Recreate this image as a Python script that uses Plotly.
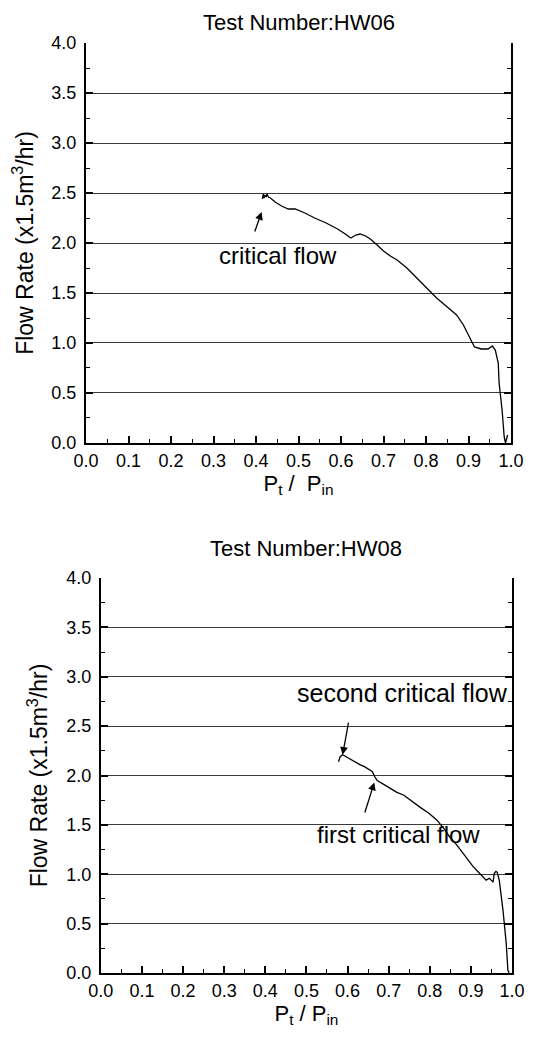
import plotly.graph_objects as go

# ---- data ----
x_hw06 = [0.415, 0.417, 0.419, 0.421, 0.424, 0.426, 0.429, 0.434, 0.445, 0.460, 0.476, 0.492,
          0.515, 0.538, 0.565, 0.592, 0.610, 0.623, 0.635, 0.645, 0.658, 0.669, 0.685, 0.700,
          0.716, 0.732, 0.755, 0.778, 0.800, 0.825, 0.850, 0.872, 0.888, 0.903, 0.914, 0.930,
          0.946, 0.956, 0.963, 0.970, 0.972, 0.979, 0.984, 0.987, 0.992]
y_hw06 = [2.44, 2.49, 2.45, 2.48, 2.46, 2.49, 2.46, 2.45, 2.41, 2.37, 2.34, 2.34,
          2.30, 2.25, 2.20, 2.14, 2.09, 2.05, 2.08, 2.09, 2.07, 2.04, 1.98, 1.92,
          1.87, 1.83, 1.75, 1.65, 1.55, 1.45, 1.36, 1.28, 1.18, 1.05, 0.96, 0.94,
          0.94, 0.97, 0.93, 0.80, 0.60, 0.33, 0.06, 0.00, 0.08]

x_hw08 = [0.578, 0.582, 0.588, 0.600, 0.617, 0.630, 0.641, 0.652, 0.660, 0.666, 0.672, 0.688,
          0.704, 0.720, 0.737, 0.756, 0.776, 0.797, 0.817, 0.833, 0.848, 0.865, 0.882, 0.894,
          0.905, 0.921, 0.933, 0.937, 0.945, 0.954, 0.957, 0.961, 0.964, 0.969, 0.978, 0.986,
          0.990, 0.993]
y_hw08 = [2.14, 2.19, 2.21, 2.18, 2.14, 2.11, 2.09, 2.06, 2.04, 1.99, 1.95, 1.91,
          1.87, 1.83, 1.80, 1.74, 1.68, 1.62, 1.55, 1.47, 1.38, 1.30, 1.21, 1.14,
          1.08, 1.01, 0.96, 0.94, 0.96, 0.92, 1.01, 1.03, 1.02, 0.94, 0.64, 0.30,
          0.03, 0.00]

titles = ["Test Number:HW06", "Test Number:HW08"]
x_titles = ["P<sub>t</sub> /  P<sub>in</sub>", "P<sub>t</sub> / P<sub>in</sub>"]
y_title = "Flow Rate (x1.5m<sup>3</sup>/hr)"
x_ticks = [0.0, 0.1, 0.2, 0.3, 0.4, 0.5, 0.6, 0.7, 0.8, 0.9, 1.0]
y_ticks = [0.0, 0.5, 1.0, 1.5, 2.0, 2.5, 3.0, 3.5, 4.0]
top_ticks_1 = [0.072, 0.214, 0.359, 0.501, 0.643, 0.788, 0.932]
top_ticks_2 = [0.089, 0.183, 0.277, 0.371, 0.465, 0.559, 0.653, 0.747, 0.841, 0.935]

FONT = "Arial, Liberation Sans, sans-serif"

fig = go.Figure()
fig.add_trace(go.Scatter(x=x_hw06, y=y_hw06, mode="lines", xaxis="x", yaxis="y",
                         line=dict(color="black", width=1.3), showlegend=False))
fig.add_trace(go.Scatter(x=x_hw08, y=y_hw08, mode="lines", xaxis="x2", yaxis="y2",
                         line=dict(color="black", width=1.3), showlegend=False))

def xax(domain, anchor, title):
    return dict(domain=domain, anchor=anchor, range=[0, 1], tickvals=x_ticks,
                ticktext=[f"{v:.1f}" for v in x_ticks], ticks="inside", ticklen=7,
                tickwidth=1.5, tickcolor="black", showline=True, linecolor="black",
                linewidth=2, showgrid=False, zeroline=False,
                minor=dict(ticks="inside", dtick=0.05, ticklen=4, tickwidth=1.3, tickcolor="black"),
                tickfont=dict(family=FONT, size=18, color="black"),
                title=dict(text=title, font=dict(family=FONT, size=22, color="black"), standoff=1))

def yax(domain, anchor, title):
    return dict(domain=domain, anchor=anchor, range=[0, 4], tickvals=y_ticks,
                ticktext=[f"{v:.1f}" for v in y_ticks], ticks="inside", ticklen=7,
                tickwidth=1.5, tickcolor="black", showline=True, linecolor="black",
                linewidth=2, mirror="ticks", showgrid=True, gridcolor="#3a3a3a",
                gridwidth=1.4, zeroline=False, ticklabelstandoff=4,
                minor=dict(ticks="inside", dtick=0.25, ticklen=4, tickwidth=1.3, tickcolor="black"),
                tickfont=dict(family=FONT, size=18, color="black"),
                title=dict(text=title, font=dict(family=FONT, size=23, color="black"), standoff=12))

def topax(overlay, anchor, vals, domain):
    return dict(overlaying=overlay, anchor=anchor, side="top", range=[0, 1], tickvals=vals,
                domain=domain, showticklabels=False, ticks="inside", ticklen=7, tickwidth=1.5,
                tickcolor="black", showline=True, linecolor="black", linewidth=2,
                showgrid=False, zeroline=False)

top_dom = [0.5699, 1.0]
bot_dom = [0.0, 0.4247]
xd1 = [0, 429 / 430]
xd2 = [15 / 430, 1.0]

fig.update_layout(
    width=529, height=1022,
    margin=dict(l=78, r=21, t=35, b=57),
    plot_bgcolor="white", paper_bgcolor="white",
    xaxis=xax(xd1, "y", x_titles[0]),
    yaxis=yax(top_dom, "x", y_title),
    xaxis2=xax(xd2, "y2", x_titles[1]),
    yaxis2=yax(bot_dom, "x2", y_title),
    xaxis3=topax("x", "y", top_ticks_1, xd1),
    xaxis4=topax("x2", "y2", top_ticks_2, xd2),
)

ann = []
# subplot titles
ann.append(dict(text=titles[0], xref="x domain", yref="paper", x=0.5, y=top_dom[1], yshift=35,
                yanchor="top", showarrow=False, font=dict(family=FONT, size=22, color="black")))
ann.append(dict(text=titles[1], xref="x2 domain", yref="paper", x=0.5, y=bot_dom[1], yshift=30,
                yanchor="middle", showarrow=False, font=dict(family=FONT, size=22, color="black")))
# arrows
arr = dict(showarrow=True, arrowhead=2, arrowsize=1.2, arrowwidth=1.3, arrowcolor="black", text="")
ann.append(dict(xref="x", yref="y", axref="x", ayref="y", x=0.413, y=2.31, ax=0.396, ay=2.10, **arr))
ann.append(dict(xref="x2", yref="y2", axref="x2", ayref="y2", x=0.588, y=2.21, ax=0.603, ay=2.55, **arr))
ann.append(dict(xref="x2", yref="y2", axref="x2", ayref="y2", x=0.665, y=1.93, ax=0.641, ay=1.61, **arr))
# labels
lab = dict(showarrow=False, font=dict(family=FONT, size=24, color="black"))
ann.append(dict(text="critical flow", xref="x", yref="y", x=0.452, y=1.88, **lab))
ann.append(dict(text="second critical flow", xref="x2", yref="y2", x=0.733, y=2.84,
                showarrow=False, font=dict(family=FONT, size=25, color="black")))
ann.append(dict(text="first critical flow", xref="x2", yref="y2", x=0.725, y=1.40, **lab))
fig.update_layout(annotations=ann)

fig.write_html("out.html")
